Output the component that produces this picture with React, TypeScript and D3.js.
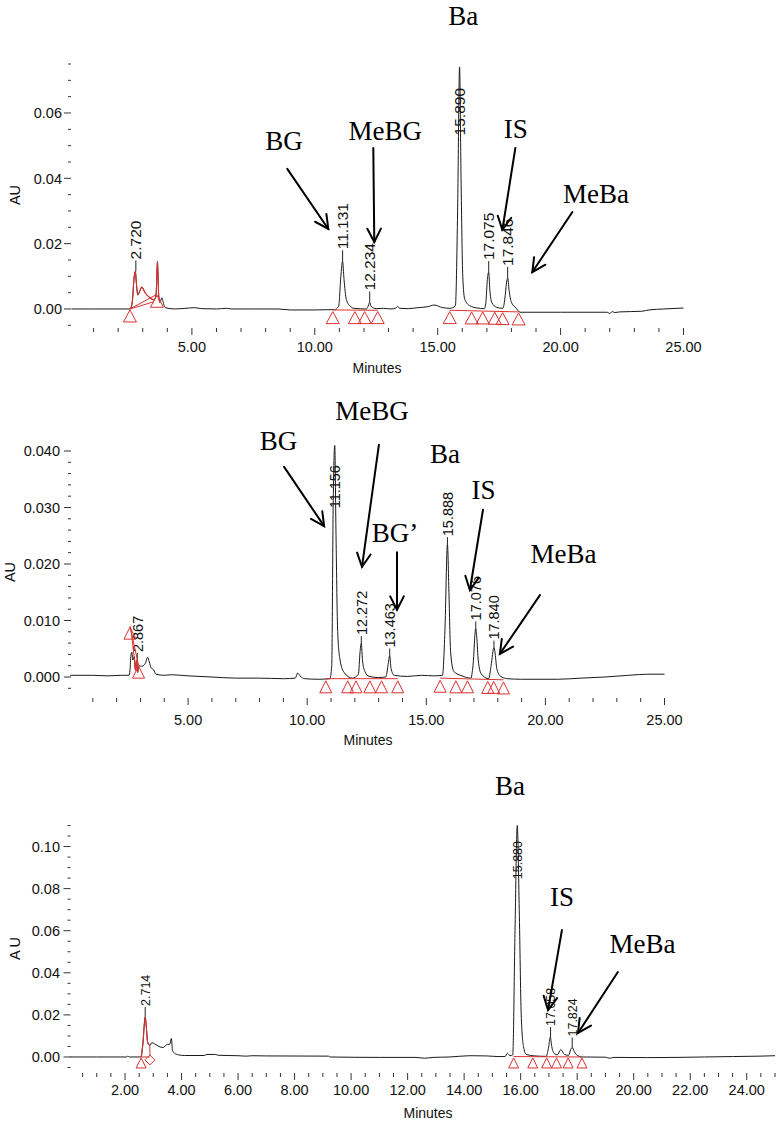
import React from 'react';
import * as d3 from 'd3';

type Pt = [number, number];

// ================= Panel 1 data =================
const p1Trace: Pt[] = [
  [0.1, 0], [1, 0], [2, 0], [2.5, 0], [2.58, 0.0025], [2.64, 0.009], [2.7, 0.0115], [2.74, 0.008],
  [2.8, 0.0043], [2.88, 0.0055], [2.96, 0.0067], [3.1, 0.0049], [3.3, 0.0034], [3.45, 0.0028],
  [3.54, 0.004], [3.6, 0.0145], [3.65, 0.004], [3.7, 0.002], [3.78, 0.0034], [3.85, 0.0015],
  [3.92, 0.0004], [4.3, 0], [4.9, 0.0003], [5.1, 0.0004], [5.4, 0.0001], [6.0, 0], [6.4, 0.0002],
  [6.6, 0], [7.5, 0], [8.5, 0], [9.0, -0.0003], [10.0, -0.0003], [10.8, -0.0002], [10.97, 0.0008],
  [11.06, 0.01], [11.13, 0.0146], [11.19, 0.009], [11.28, 0.003], [11.42, 0.001], [11.6, 0.0002],
  [12.1, 0], [12.19, 0.0012], [12.23, 0.002], [12.29, 0.0008], [12.5, 0.0001], [12.8, 0.0002],
  [13.1, 0], [13.3, 0.0003], [13.37, 0.0008], [13.45, 0.0002], [13.8, 0.0001], [14.2, 0.0004],
  [14.6, 0.0007], [14.85, 0.0012], [15.2, 0.0004], [15.5, 0.0002], [15.72, 0.001], [15.81, 0.03],
  [15.89, 0.0741], [15.95, 0.04], [16.02, 0.01], [16.1, 0.003], [16.3, 0.001], [16.6, 0.0003],
  [16.9, 0.0001], [16.96, 0.002], [17.02, 0.009], [17.075, 0.0113], [17.12, 0.006], [17.2, 0.002],
  [17.4, 0.0005], [17.65, 0.0002], [17.73, 0.003], [17.8, 0.008], [17.85, 0.0095], [17.9, 0.006],
  [18.0, 0.002], [18.2, 0.0002], [18.35, -0.001], [20.0, -0.001], [21.9, -0.001], [22.0, -0.0014],
  [22.1, -0.0008], [22.2, -0.0011], [22.4, -0.0009], [23.3, -0.0007], [23.6, -0.0003], [24.2, 0],
  [25.0, 0.0003],
];
const p1RedRange: Pt = [2.5, 3.7];
const p1Markers: Pt[] = [
  [2.48, 0], [3.58, 0.0045], [10.73, -0.0005], [11.63, -0.0005], [12.03, -0.0005], [12.56, -0.0005],
  [15.49, -0.0005], [16.38, -0.0006], [16.83, -0.0006], [17.32, -0.0007], [17.64, -0.0008], [18.29, -0.0009],
];
const p1Baselines: Pt[][] = [
  [[2.48, 0], [3.58, 0.0045]],
  [[2.48, 0], [3.45, 0.0022]],
  [[10.73, -0.0003], [12.56, -0.0004]],
  [[15.49, -0.0004], [18.29, -0.0009]],
];
const p1PeakNames = ['2.720', '11.131', '12.234', '15.890', '17.075', '17.846'];
const p1PeakApex = [0.0115, 0.0146, 0.002, 0.0741, 0.0113, 0.0095];
const p1Notes: { text: string; t: number; v: number }[] = [
  { text: 'BG', t: 8.75, v: 0.0487 },
  { text: 'MeBG', t: 12.87, v: 0.0517 },
  { text: 'Ba', t: 16.04, v: 0.0869 },
  { text: 'IS', t: 18.18, v: 0.0523 },
  { text: 'MeBa', t: 21.44, v: 0.0325 },
];
const p1Arrows: [number, number, number, number][] = [
  [8.88, 0.0429, 10.55, 0.0245],
  [12.38, 0.0493, 12.42, 0.0205],
  [18.16, 0.0493, 17.63, 0.0242],
  [20.48, 0.0297, 18.85, 0.0113],
];
const p1YMajor = [0, 0.02, 0.04, 0.06];
const p1YLabels = ['0.00', '0.02', '0.04', '0.06'];
const p1XMajor = [5, 10, 15, 20, 25];
const p1XLabels = ['5.00', '10.00', '15.00', '20.00', '25.00'];

// ================= Panel 2 data =================
const p2Trace: Pt[] = [
  [0.05, 0.0003], [1.0, 0.0003], [1.6, 0.0002], [2.2, 0.0003], [2.52, 0.0003], [2.56, 0.0012],
  [2.6, 0.0038], [2.64, 0.0044], [2.68, 0.003], [2.74, 0.0036], [2.79, 0.0012], [2.84, 0.003],
  [2.88, 0.0008], [2.93, 0.002], [3.05, 0.0019], [3.2, 0.0024], [3.3, 0.0035], [3.37, 0.0027],
  [3.45, 0.0016], [3.55, 0.0013], [3.65, 0.0005], [4.0, 0.0003], [4.3, 0.0004], [5.0, 0.0002],
  [6.0, 0], [7.0, -0.0002], [8.0, -0.0002], [9.0, -0.0003], [9.5, -0.0002], [9.6, 0.0007],
  [9.7, 0.0002], [9.9, -0.0003], [10.5, -0.0004], [10.95, -0.0003], [11.03, 0.002], [11.09, 0.03],
  [11.156, 0.041], [11.21, 0.025], [11.28, 0.008], [11.38, 0.003], [11.55, 0.0008], [11.9, -0.0002],
  [12.15, 0.0005], [12.22, 0.0045], [12.272, 0.006], [12.32, 0.003], [12.42, 0.001], [12.6, 0.0001],
  [13.0, -0.0001], [13.3, 0], [13.39, 0.002], [13.463, 0.0038], [13.52, 0.0015], [13.65, 0.0003],
  [14.2, 0.0001], [14.8, 0.0003], [15.3, 0.0002], [15.68, 0.0003], [15.78, 0.008], [15.888, 0.0235],
  [15.95, 0.015], [16.02, 0.0045], [16.15, 0.001], [16.5, 0.0002], [16.87, -0.0002], [16.96, 0.002],
  [17.076, 0.0086], [17.12, 0.007], [17.18, 0.003], [17.3, 0.0006], [17.62, -0.0003], [17.72, 0.002],
  [17.84, 0.0052], [17.88, 0.0045], [17.96, 0.0015], [18.1, 0.0002], [18.4, -0.0003], [19.0, -0.0004],
  [20.5, -0.0004], [21.5, -0.0002], [22.5, 0], [23.5, 0.0003], [24.3, 0.0005], [25.0, 0.0005],
];
const p2RedRange: Pt = [2.74, 2.93];
const p2Markers: Pt[] = [
  [2.56, 0.009], [2.92, 0.0021], [10.78, -0.0005], [11.7, -0.0005], [12.05, -0.0005], [12.63, -0.0005],
  [13.12, -0.0005], [13.8, -0.0005], [15.58, -0.0004], [16.24, -0.0005], [16.73, -0.0005],
  [17.58, -0.0006], [17.83, -0.0006], [18.24, -0.0007],
];
const p2Baselines: Pt[][] = [
  [[2.56, 0.009], [2.92, 0.0021]],
  [[2.6, 0.0085], [2.8, 0.0012]],
  [[10.78, -0.0003], [13.8, -0.0003]],
  [[15.58, -0.0002], [18.24, -0.0005]],
];
const p2PeakNames = ['2.867', '11.156', '12.272', '13.463', '15.888', '17.076', '17.840'];
const p2PeakApex = [0.003, 0.041, 0.006, 0.0038, 0.0235, 0.0086, 0.0052];
const p2Notes: { text: string; t: number; v: number }[] = [
  { text: 'BG', t: 8.8, v: 0.0402 },
  { text: 'MeBG', t: 12.72, v: 0.0455 },
  { text: 'BG\u2019', t: 13.69, v: 0.0239 },
  { text: 'Ba', t: 15.79, v: 0.0379 },
  { text: 'IS', t: 17.4, v: 0.0315 },
  { text: 'MeBa', t: 20.76, v: 0.0202 },
];
const p2Arrows: [number, number, number, number][] = [
  [9.03, 0.0372, 10.71, 0.0267],
  [13.01, 0.0411, 12.3, 0.0195],
  [13.77, 0.0221, 13.77, 0.0119],
  [17.38, 0.0296, 16.83, 0.0154],
  [19.77, 0.0145, 18.09, 0.0041],
];
const p2YMajor = [0, 0.01, 0.02, 0.03, 0.04];
const p2YLabels = ['0.000', '0.010', '0.020', '0.030', '0.040'];
const p2XMajor = [5, 10, 15, 20, 25];
const p2XLabels = ['5.00', '10.00', '15.00', '20.00', '25.00'];

// ================= Panel 3 data =================
const p3Trace: Pt[] = [
  [0.05, 0], [1.0, 0], [2.05, 0], [2.1, 0.0004], [2.15, 0], [2.57, 0], [2.63, 0.006], [2.714, 0.019],
  [2.75, 0.015], [2.8, 0.007], [2.88, 0.0055], [2.95, 0.0068], [3.05, 0.0062], [3.2, 0.005],
  [3.35, 0.0045], [3.5, 0.006], [3.58, 0.006], [3.64, 0.0088], [3.68, 0.003], [3.75, 0.0018],
  [3.9, 0.001], [4.1, 0.0007], [4.8, 0.0007], [4.9, 0.0012], [5.2, 0.0012], [5.3, 0.0008],
  [6.0, 0.0006], [6.3, 0.0004], [6.5, 0.0006], [7.0, 0.0005], [9.2, 0.0004], [9.25, 0],
  [11.0, -0.0002], [12.3, -0.0002], [12.6, -0.0006], [12.9, -0.0002], [13.5, 0], [14.2, 0.0006],
  [14.8, 0.0005], [15.2, 0.0002], [15.45, 0.0002], [15.53, 0.0018], [15.62, 0.0006], [15.72, 0.001],
  [15.8, 0.06], [15.88, 0.11], [15.95, 0.07], [16.02, 0.02], [16.1, 0.005], [16.2, 0.0012],
  [16.5, 0.0005], [16.9, 0.0003], [16.98, 0.004], [17.05, 0.0095], [17.1, 0.005], [17.2, 0.0015],
  [17.3, 0.001], [17.42, 0.0035], [17.55, 0.0012], [17.7, 0.0008], [17.77, 0.0035], [17.824, 0.0045],
  [17.9, 0.0025], [18.0, 0.0008], [18.2, 0], [19.0, -0.0001], [19.15, -0.0006], [19.3, -0.0002],
  [20.5, -0.0003], [21.5, -0.0002], [22.5, 0], [23.5, 0.0002], [24.5, 0.0004], [25.0, 0.0006],
];
const p3RedRange: Pt = [2.57, 2.88];
const p3Markers: Pt[] = [
  [2.57, 0], [15.75, 0], [16.43, 0], [16.92, 0], [17.27, 0], [17.68, 0], [18.17, 0],
];
const p3Diamonds: Pt[] = [[2.88, -0.0014]];
const p3Baselines: Pt[][] = [
  [[2.57, 0], [2.88, 0]],
  [[2.88, 0.0055], [2.88, 0.0008]],
  [[15.75, 0.0002], [18.17, 0]],
];
const p3PeakNames = ['2.714', '15.880', '17.058', '17.824'];
const p3PeakApex = [0.019, 0.11, 0.0095, 0.0045];
const p3Notes: { text: string; t: number; v: number }[] = [
  { text: 'Ba', t: 15.62, v: 0.1245 },
  { text: 'IS', t: 17.46, v: 0.0717 },
  { text: 'MeBa', t: 20.31, v: 0.0494 },
];
const p3Arrows: [number, number, number, number][] = [
  [17.46, 0.0603, 16.97, 0.0223],
  [19.44, 0.0404, 18.03, 0.0114],
];
const p3YMajor = [0, 0.02, 0.04, 0.06, 0.08, 0.1];
const p3YLabels = ['0.00', '0.02', '0.04', '0.06', '0.08', '0.10'];
const p3XMajor = [2, 4, 6, 8, 10, 12, 14, 16, 18, 20, 22, 24];
const p3XLabels = ['2.00', '4.00', '6.00', '8.00', '10.00', '12.00', '14.00', '16.00', '18.00', '20.00', '22.00', '24.00'];

// ================= rendering =================
const RED = '#dc3030';
const SANS = '"Liberation Sans", Arial, Helvetica, sans-serif';
const SERIF = '"Liberation Serif", "Times New Roman", serif';

interface Layout {
  xRange: [number, number];
  yDomain: [number, number];
  yRange: [number, number];
  yMinorStep: number;
  xMinorStep: number;
  xTickY: number;
  xLabelY: number;
  minutesX: number;
  minutesY: number;
  auX: number;
  auY: number;
  auSpacing: number;
  yLabelX: number;
  tickFont: number;
  peakFont: number;
  peakGap: number;
  labelTopMin: number;
  triW: number;
  triH: number;
}

interface PanelData {
  trace: Pt[];
  redRange: Pt;
  markers: Pt[];
  diamonds?: Pt[];
  baselines: Pt[][];
  peakNames: string[];
  peakApex: number[];
  notes: { text: string; t: number; v: number }[];
  arrows: [number, number, number, number][];
  yMajor: number[];
  yLabels: string[];
  xMajor: number[];
  xLabels: string[];
}

function textLen(s: string, fs: number) {
  let w = 0;
  for (const c of s) w += c === '.' ? 0.278 : 0.556;
  return w * fs;
}

function Panel({ d, L }: { d: PanelData; L: Layout }) {
  const x = d3.scaleLinear().domain([0, 25]).range(L.xRange);
  const y = d3.scaleLinear().domain(L.yDomain).range(L.yRange);
  const line = d3.line<Pt>().x((p) => x(p[0])).y((p) => y(p[1])).curve(d3.curveMonotoneX);
  const straight = d3.line<Pt>().x((p) => x(p[0])).y((p) => y(p[1]));

  const yMinor = d3.range(L.yDomain[0], L.yDomain[1] + 1e-9, L.yMinorStep)
    .filter((v) => !d.yMajor.some((m) => Math.abs(m - v) < 1e-9));
  const xMinor = d3.range(L.xMinorStep, 25 + 1e-9, L.xMinorStep)
    .filter((v) => !d.xMajor.some((m) => Math.abs(m - v) < 1e-9));

  const redPts = d.trace.filter((p) => p[0] >= d.redRange[0] - 1e-9 && p[0] <= d.redRange[1] + 1e-9);
  const yAxisX = L.xRange[0] + 2;

  return (
    <g>
      {/* y ticks */}
      {d.yMajor.map((v, i) => (
        <g key={'ym' + i}>
          <line x1={yAxisX - 7} x2={yAxisX} y1={y(v)} y2={y(v)} stroke="#333" strokeWidth={1} />
          <text x={L.yLabelX} y={y(v)} dy="0.36em" textAnchor="end" fontFamily={SANS} fontSize={L.tickFont} fill="#111">
            {d.yLabels[i]}
          </text>
        </g>
      ))}
      {yMinor.map((v, i) => (
        <line key={'yn' + i} x1={yAxisX - 3} x2={yAxisX} y1={y(v)} y2={y(v)} stroke="#333" strokeWidth={1} />
      ))}
      <text
        transform={`translate(${L.auX},${L.auY}) rotate(-90)`}
        textAnchor="middle"
        dy="0.36em"
        fontFamily={SANS}
        fontSize={L.tickFont}
        letterSpacing={L.auSpacing}
        fill="#111"
      >
        AU
      </text>
      {/* x ticks */}
      {d.xMajor.map((v, i) => (
        <g key={'xm' + i}>
          <line x1={x(v)} x2={x(v)} y1={L.xTickY} y2={L.xTickY + 7} stroke="#333" strokeWidth={1} />
          <text x={x(v)} y={L.xLabelY} textAnchor="middle" fontFamily={SANS} fontSize={L.tickFont} fill="#111">
            {d.xLabels[i]}
          </text>
        </g>
      ))}
      {xMinor.map((v, i) => (
        <line key={'xn' + i} x1={x(v)} x2={x(v)} y1={L.xTickY} y2={L.xTickY + 4} stroke="#333" strokeWidth={1} />
      ))}
      <text x={L.minutesX} y={L.minutesY} textAnchor="middle" fontFamily={SANS} fontSize={L.tickFont - 0.5} fill="#111">
        Minutes
      </text>

      {/* peak labels */}
      {d.peakNames.map((name, i) => {
        const t = parseFloat(name);
        const px = x(t);
        const py = y(d.peakApex[i]);
        const len = textLen(name, L.peakFont);
        let bottom = py - L.peakGap;
        if (bottom - len < L.labelTopMin) bottom = L.labelTopMin + len;
        return (
          <g key={'pl' + i}>
            {bottom < py && <line x1={px} x2={px} y1={py} y2={bottom} stroke="#222" strokeWidth={1} />}
            <text
              transform={`translate(${px},${bottom - 1}) rotate(-90)`}
              textAnchor="start"
              dy="0.36em"
              fontFamily={SANS}
              fontSize={L.peakFont}
              fill="#111"
            >
              {name}
            </text>
          </g>
        );
      })}

      {/* trace */}
      <path d={line(d.trace) || ''} fill="none" stroke="#1a1a1a" strokeWidth={1} />
      <path d={line(redPts) || ''} fill="none" stroke={RED} strokeWidth={1.1} />

      {/* integration baselines */}
      {d.baselines.map((seg, i) => (
        <path key={'bl' + i} d={straight(seg) || ''} fill="none" stroke={RED} strokeWidth={1} />
      ))}
      {/* markers */}
      {d.markers.map((m, i) => {
        const cx = x(m[0]);
        const cy = y(m[1]) + 1;
        return (
          <path
            key={'mk' + i}
            d={`M${cx},${cy}L${cx + L.triW / 2},${cy + L.triH}L${cx - L.triW / 2},${cy + L.triH}Z`}
            fill="none"
            stroke={RED}
            strokeWidth={1}
          />
        );
      })}
      {(d.diamonds || []).map((m, i) => {
        const cx = x(m[0]);
        const cy = y(m[1]);
        const r = 5;
        return (
          <path
            key={'dm' + i}
            d={`M${cx},${cy - r}L${cx + r},${cy}L${cx},${cy + r}L${cx - r},${cy}Z`}
            fill="none"
            stroke={RED}
            strokeWidth={1}
          />
        );
      })}

      {/* annotations */}
      {d.notes.map((n, i) => (
        <text key={'nt' + i} x={x(n.t)} y={y(n.v)} textAnchor="middle" fontFamily={SERIF} fontSize={27} fill="#000">
          {n.text}
        </text>
      ))}
      {d.arrows.map((a, i) => {
        const x1 = x(a[0]);
        const y1 = y(a[1]);
        const x2 = x(a[2]);
        const y2 = y(a[3]);
        const ang = Math.atan2(y2 - y1, x2 - x1);
        const wl = 15;
        const wa = (27 * Math.PI) / 180;
        const w1x = x2 - wl * Math.cos(ang - wa);
        const w1y = y2 - wl * Math.sin(ang - wa);
        const w2x = x2 - wl * Math.cos(ang + wa);
        const w2y = y2 - wl * Math.sin(ang + wa);
        return (
          <g key={'ar' + i} stroke="#000" strokeWidth={2} fill="none" strokeLinecap="round">
            <line x1={x1} y1={y1} x2={x2} y2={y2} />
            <path d={`M${w1x},${w1y}L${x2},${y2}L${w2x},${w2y}`} />
          </g>
        );
      })}
    </g>
  );
}

const L1: Layout = {
  xRange: [69, 683.5], yDomain: [-0.005, 0.075], yRange: [325.3, 64], yMinorStep: 0.005, xMinorStep: 1,
  xTickY: 328, xLabelY: 352, minutesX: 377, minutesY: 373, auX: 15, auY: 195, auSpacing: 0,
  yLabelX: 62, tickFont: 14.5, peakFont: 15.5, peakGap: 11, labelTopMin: 89, triW: 13, triH: 12,
};
const L2: Layout = {
  xRange: [69, 664.5], yDomain: [-0.002, 0.04], yRange: [688.3, 451], yMinorStep: 0.002, xMinorStep: 1,
  xTickY: 698, xLabelY: 725, minutesX: 368, minutesY: 745, auX: 10, auY: 572, auSpacing: 0,
  yLabelX: 60, tickFont: 14.5, peakFont: 14.5, peakGap: 7, labelTopMin: 465, triW: 12, triH: 12,
};
const L3: Layout = {
  xRange: [68.5, 775], yDomain: [-0.005, 0.11], yRange: [1067.5, 825.5], yMinorStep: 0.005, xMinorStep: 0.5,
  xTickY: 1073, xLabelY: 1095, minutesX: 428, minutesY: 1118, auX: 15, auY: 947, auSpacing: 3,
  yLabelX: 60, tickFont: 14.5, peakFont: 12.5, peakGap: 10, labelTopMin: 842, triW: 10, triH: 10,
};

const D1: PanelData = {
  trace: p1Trace, redRange: p1RedRange, markers: p1Markers, baselines: p1Baselines,
  peakNames: p1PeakNames, peakApex: p1PeakApex, notes: p1Notes, arrows: p1Arrows,
  yMajor: p1YMajor, yLabels: p1YLabels, xMajor: p1XMajor, xLabels: p1XLabels,
};
const D2: PanelData = {
  trace: p2Trace, redRange: p2RedRange, markers: p2Markers, baselines: p2Baselines,
  peakNames: p2PeakNames, peakApex: p2PeakApex, notes: p2Notes, arrows: p2Arrows,
  yMajor: p2YMajor, yLabels: p2YLabels, xMajor: p2XMajor, xLabels: p2XLabels,
};
const D3: PanelData = {
  trace: p3Trace, redRange: p3RedRange, markers: p3Markers, diamonds: p3Diamonds, baselines: p3Baselines,
  peakNames: p3PeakNames, peakApex: p3PeakApex, notes: p3Notes, arrows: p3Arrows,
  yMajor: p3YMajor, yLabels: p3YLabels, xMajor: p3XMajor, xLabels: p3XLabels,
};

export default function App() {
  return (
    <svg
      width={777}
      height={1123}
      viewBox="0 0 777 1123"
      style={{ position: 'absolute', left: 0, top: 0, background: '#fff' }}
    >
      <rect x={0} y={0} width={777} height={1123} fill="#fff" />
      <Panel d={D1} L={L1} />
      <Panel d={D2} L={L2} />
      <Panel d={D3} L={L3} />
    </svg>
  );
}
